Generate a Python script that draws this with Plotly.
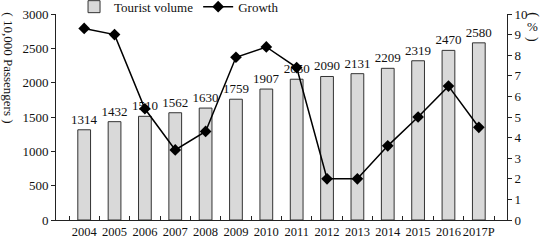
import plotly.graph_objects as go

years = ["2004", "2005", "2006", "2007", "2008", "2009", "2010", "2011",
         "2012", "2013", "2014", "2015", "2016", "2017P"]
volume = [1314, 1432, 1510, 1562, 1630, 1759, 1907, 2050, 2090, 2131, 2209, 2319, 2470, 2580]
growth = [9.3, 9.0, 5.4, 3.4, 4.3, 7.9, 8.4, 7.4, 2.0, 2.0, 3.6, 5.0, 6.5, 4.5]

FONT = "Liberation Serif, Times New Roman, serif"

fig = go.Figure()
fig.add_trace(go.Bar(
    x=years, y=volume, name="Tourist volume",
    marker=dict(color="#d9d9d9", line=dict(color="#333333", width=1)),
    width=0.42,
    text=[str(v) for v in volume], textposition="outside",
    constraintext="none",
    textfont=dict(family=FONT, size=13, color="#111"),
    cliponaxis=False,
))
fig.add_trace(go.Scatter(
    x=years, y=growth, name="Growth", yaxis="y2", mode="lines+markers",
    line=dict(color="#000", width=1.5),
    marker=dict(symbol="diamond", size=9, color="#000"),
))

fig.update_layout(
    width=544, height=240,
    margin=dict(l=56, r=37, t=14, b=20, autoexpand=False),
    paper_bgcolor="white", plot_bgcolor="white",
    font=dict(family=FONT, size=13, color="#111"),
    showlegend=True,
    legend=dict(orientation="h", x=0.04, xanchor="left",
                yref="container", y=0.972, yanchor="middle",
                font=dict(family=FONT, size=13), bgcolor="rgba(0,0,0,0)",
                traceorder="normal"),
    bargap=0.5,
    xaxis=dict(type="category", showline=True, linecolor="#222", linewidth=1,
               ticks="inside", ticklen=4, tickcolor="#222", tickson="boundaries",
               tickangle=0, showgrid=False, tickfont=dict(family=FONT, size=12.5)),
    yaxis=dict(range=[0, 3000], tickvals=[0, 500, 1000, 1500, 2000, 2500, 3000],
               showline=True, linecolor="#222", linewidth=1, ticks="outside",
               ticklen=4, tickcolor="#222", showgrid=False, zeroline=False,
               tickfont=dict(family=FONT, size=13)),
    yaxis2=dict(range=[0, 10], tickvals=list(range(0, 11)), overlaying="y", side="right",
                showline=True, linecolor="#222", linewidth=1, ticks="outside",
                ticklen=4, tickcolor="#222", showgrid=False, zeroline=False,
                tickfont=dict(family=FONT, size=13)),
    annotations=[
        dict(text="( 10,000 Passengers )",
             textangle=90, xref="paper", yref="paper",
             x=-0.106, y=0.74, xanchor="center", yanchor="middle", showarrow=False,
             font=dict(family=FONT, size=13)),
        dict(text="(", textangle=90, xref="paper", yref="paper",
             x=1.057, y=0.995, xanchor="center", yanchor="middle", showarrow=False,
             font=dict(family=FONT, size=14)),
        dict(text="%", xref="paper", yref="paper",
             x=1.057, y=0.94, xanchor="center", yanchor="middle", showarrow=False,
             font=dict(family=FONT, size=13)),
        dict(text=")", textangle=90, xref="paper", yref="paper",
             x=1.057, y=0.875, xanchor="center", yanchor="middle", showarrow=False,
             font=dict(family=FONT, size=14)),
    ],
)

fig.write_html("out.html", config={"displayModeBar": False},
               post_script="document.body.style.margin='0';")
